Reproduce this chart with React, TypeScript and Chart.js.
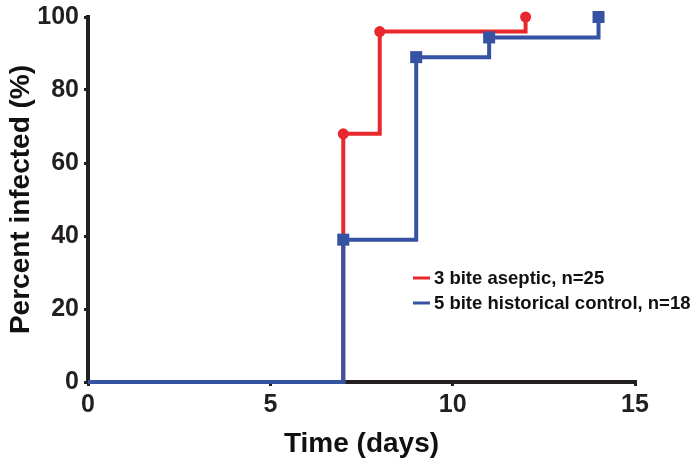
import React, { useEffect, useRef } from "react";
import { Chart, registerables } from "chart.js";

Chart.register(...registerables);

const seriesNames = ["3 bite aseptic, n=25", "5 bite historical control, n=18"];
const redDays = [0, 7, 8, 12];
const redPct = [0, 68, 96, 100];
const blueDays = [0, 7, 9, 11, 14];
const bluePct = [0, 39, 89, 94.4, 100];
const xTicks = [0, 5, 10, 15];
const yTicks = [0, 20, 40, 60, 80, 100];

const RED = "#E8282C";
const BLUE = "#3653A3";
const AXIS = "#231F20";
const FONT = "'Liberation Sans', Arial, sans-serif";

const legendPlugin = {
  id: "insideLegend",
  afterDraw(chart: any) {
    const { ctx } = chart;
    const items = [
      { label: seriesNames[0], color: RED },
      { label: seriesNames[1], color: BLUE },
    ];
    ctx.save();
    ctx.font = `bold 18.5px ${FONT}`;
    ctx.textBaseline = "middle";
    ctx.textAlign = "left";
    items.forEach((it, i) => {
      const y = 278 + i * 25;
      ctx.strokeStyle = it.color;
      ctx.lineWidth = 3;
      ctx.beginPath();
      ctx.moveTo(413, y);
      ctx.lineTo(430, y);
      ctx.stroke();
      ctx.fillStyle = "#111";
      ctx.fillText(it.label, 434, y + 1);
    });
    ctx.restore();
  },
};

export default function App() {
  const ref = useRef<HTMLCanvasElement>(null);
  useEffect(() => {
    if (!ref.current) return;
    const red = redDays.map((d, i) => ({ x: d, y: redPct[i] }));
    const blue = blueDays.map((d, i) => ({ x: d, y: bluePct[i] }));
    const chart = new Chart(ref.current, {
      type: "line",
      data: {
        datasets: [
          {
            label: seriesNames[0],
            data: red,
            borderColor: RED,
            backgroundColor: RED,
            borderWidth: 4,
            stepped: "before",
            pointStyle: "circle",
            pointRadius: red.map((_, i) => (i === 0 ? 0 : 5.5)),
            pointBorderWidth: 0,
            order: 2,
            clip: false,
          } as any,
          {
            label: seriesNames[1],
            data: blue,
            borderColor: BLUE,
            backgroundColor: BLUE,
            borderWidth: 4,
            stepped: "before",
            pointStyle: "rect",
            pointRadius: blue.map((_, i) => (i === 0 ? 0 : 8.5)),
            pointBorderWidth: 0,
            order: 1,
            clip: false,
          } as any,
        ],
      },
      options: {
        animation: false,
        responsive: false,
        maintainAspectRatio: false,
        layout: { padding: { top: 17, right: 63, bottom: 0, left: 0 } },
        plugins: {
          legend: { display: false },
          tooltip: { enabled: false },
        },
        scales: {
          x: {
            type: "linear",
            min: 0,
            max: 15,
            afterBuildTicks: (s: any) => {
              s.ticks = xTicks.map((v) => ({ value: v }));
            },
            afterFit: (s: any) => {
              s.height = 85;
              s.paddingLeft = 0;
              s.paddingRight = 0;
            },
            ticks: {
              color: "#231F20",
              font: { family: FONT, size: 25, weight: "bold" },
              padding: 4,
              maxRotation: 0,
            },
            grid: {
              display: true,
              drawOnChartArea: false,
              drawTicks: true,
              tickLength: 4,
              color: AXIS,
              lineWidth: 3,
            },
            border: { display: true, color: AXIS, width: 4 },
            title: {
              display: true,
              text: "Time (days)",
              color: "#111",
              font: { family: FONT, size: 28, weight: "bold" },
              padding: { top: 0, bottom: 6 },
            },
          },
          y: {
            type: "linear",
            min: 0,
            max: 100,
            afterBuildTicks: (s: any) => {
              s.ticks = yTicks.map((v) => ({ value: v }));
            },
            afterFit: (s: any) => {
              s.width = 88;
              s.paddingTop = 0;
              s.paddingBottom = 0;
            },
            ticks: {
              color: "#231F20",
              font: { family: FONT, size: 25, weight: "bold" },
              padding: 5,
            },
            grid: {
              display: true,
              drawOnChartArea: false,
              drawTicks: true,
              tickLength: 4,
              color: AXIS,
              lineWidth: 3,
            },
            border: { display: true, color: AXIS, width: 4 },
            title: {
              display: true,
              text: "Percent infected (%)",
              color: "#111",
              font: { family: FONT, size: 28, weight: "bold" },
              padding: { top: 4, bottom: 0 },
            },
          },
        },
      },
      plugins: [legendPlugin],
    });
    return () => chart.destroy();
  }, []);
  return (
    <div style={{ position: "absolute", left: 0, top: 0, width: 698, height: 467, background: "#fff" }}>
      <canvas ref={ref} width={698} height={467} style={{ width: 698, height: 467 }} />
    </div>
  );
}
